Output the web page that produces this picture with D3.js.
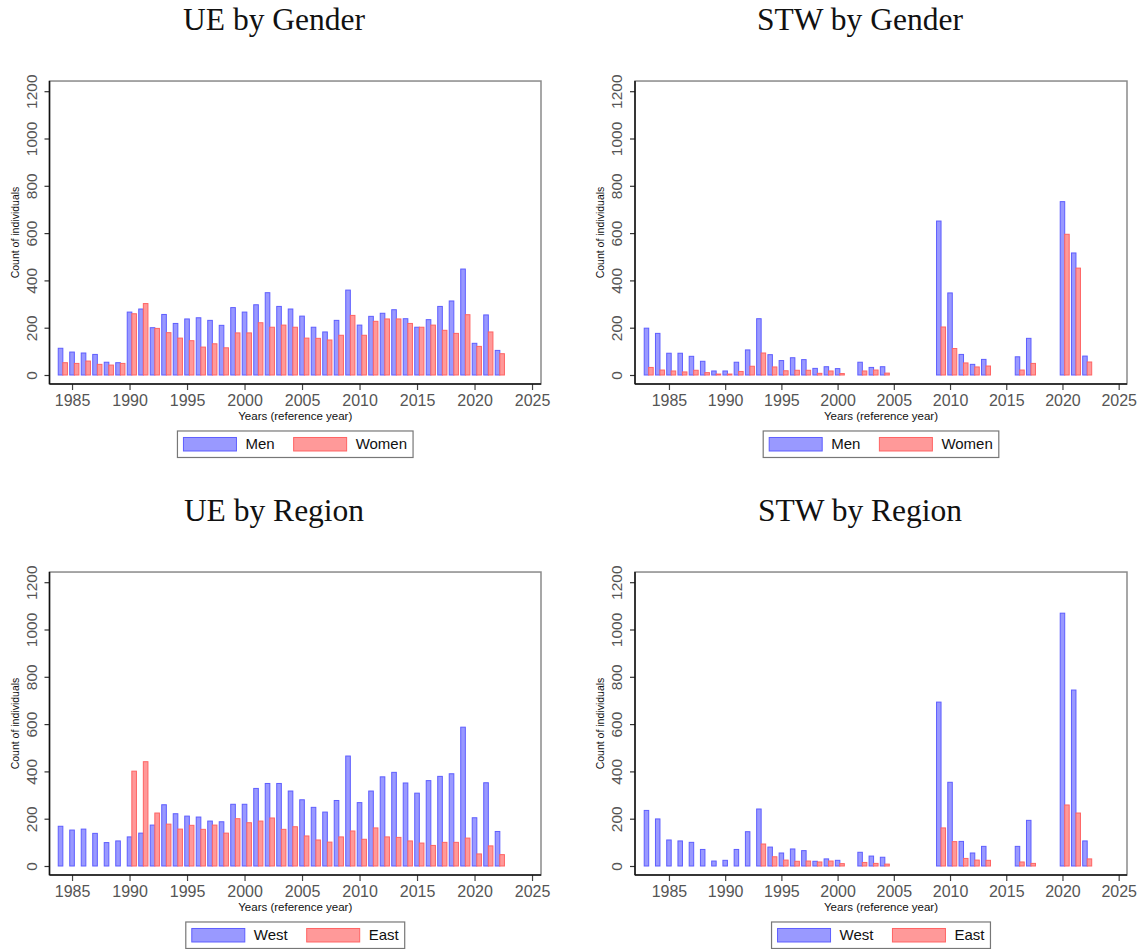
<!DOCTYPE html>
<html>
<head>
<meta charset="utf-8">
<script src="https://cdnjs.cloudflare.com/ajax/libs/d3/7.8.5/d3.min.js"></script>
<style>
  body { margin: 0; background: #fff; }
  text { font-family: "Liberation Sans", Arial, Helvetica, sans-serif; }
  .title { font-family: "Liberation Serif", "DejaVu Serif", serif; font-size: 31.5px; fill: #111; }
</style>
</head>
<body>
<svg id="chart" width="1145" height="949"></svg>
<script>
// years for unemployment (UE) and short-time work (STW) panels
let ue_years = [1984, 1985, 1986, 1987, 1988, 1989, 1990, 1991, 1992, 1993, 1994, 1995, 1996,
    1997, 1998, 1999, 2000, 2001, 2002, 2003, 2004, 2005, 2006, 2007, 2008, 2009, 2010, 2011,
    2012, 2013, 2014, 2015, 2016, 2017, 2018, 2019, 2020, 2021, 2022];
let ue_men = [113, 97, 93, 87, 54, 52, 266, 279, 200, 256, 218, 237, 242, 231, 210, 285,
    266, 297, 348, 290, 279, 249, 202, 182, 231, 359, 211, 248, 261, 276, 238, 202, 234, 290,
    313, 448, 134, 254, 104];
let ue_women = [52, 49, 59, 45, 42, 49, 259, 302, 197, 179, 156, 145, 118, 132, 115, 178,
    178, 221, 202, 211, 202, 156, 155, 148, 168, 252, 168, 227, 237, 237, 218, 202, 211, 189,
    176, 255, 121, 182, 90];
let ue_west = [168, 152, 156, 138, 99, 106, 123, 139, 173, 259, 221, 211, 207, 190, 187, 261,
    261, 328, 349, 349, 317, 280, 248, 228, 277, 465, 268, 317, 377, 396, 351, 308, 361, 379,
    390, 587, 204, 352, 146];
let ue_east = [null, null, null, null, null, null, 401, 441, 224, 177, 156, 172, 155, 173, 139,
    200, 183, 190, 203, 155, 166, 127, 110, 101, 123, 148, 113, 161, 123, 121, 106, 97, 87, 100,
    100, 118, 51, 85, 48];

let stw_years = [1983, 1984, 1985, 1986, 1987, 1988, 1989, 1990, 1991, 1992, 1993, 1994, 1995,
    1996, 1997, 1998, 1999, 2000, 2002, 2003, 2004, 2009, 2010, 2011, 2012, 2013, 2016, 2017,
    2020, 2021, 2022];
let stw_men = [198, 176, 92, 92, 79, 58, 17, 17, 54, 106, 238, 86, 61, 73, 65, 28, 35, 27,
    54, 32, 35, 651, 347, 87, 45, 66, 77, 155, 733, 516, 80];
let stw_women = [32, 21, 17, 13, 20, 10, 4, 4, 15, 37, 93, 34, 18, 20, 20, 7, 17, 6,
    17, 21, 8, 203, 112, 51, 34, 38, 21, 49, 595, 452, 55];
let stw_west = [235, 199, 110, 106, 100, 70, 21, 24, 70, 145, 241, 80, 55, 72, 65, 20, 30, 24,
    58, 42, 37, 693, 354, 104, 55, 83, 83, 193, 1069, 744, 106];
let stw_east = [null, null, null, null, null, null, null, null, null, null, 93, 39, 25, 20, 21,
    17, 21, 10, 15, 11, 8, 161, 103, 32, 25, 24, 17, 11, 258, 224, 30];

let x_ticks = [1985, 1990, 1995, 2000, 2005, 2010, 2015, 2020, 2025];
let y_ticks = [0, 200, 400, 600, 800, 1000, 1200];

let blue = { fill: "#9999ff", stroke: "#5e5eff" };
let red = { fill: "#ff9999", stroke: "#ff6464" };

let svg = d3.select("#chart");

function plot_panel(opt) {
    let g = svg.append("g");

    let x = d3.scaleLinear().domain(opt.xdomain).range([opt.left, opt.right]);
    let y = d3.scaleLinear().domain([0, 1200]).range([opt.zero, opt.zero - 283.8]);
    let top = y(1243), bottom = y(-38);

    // title
    svg.append("text")
        .attr("class", "title")
        .attr("x", opt.title_x)
        .attr("y", top - 51)
        .attr("text-anchor", "middle")
        .text(opt.title);

    // plot region border (grey top/right)
    g.append("rect")
        .attr("x", opt.left)
        .attr("y", top)
        .attr("width", opt.right - opt.left)
        .attr("height", bottom - top)
        .attr("fill", "none")
        .attr("stroke", "#8a8a8a")
        .attr("stroke-width", 1.5);

    // bars
    let series = [
        { vals: opt.a, off: -0.2, col: blue },
        { vals: opt.b, off: 0.2, col: red }
    ];
    series.forEach(s => {
        let rows = opt.years.map((yr, i) => ({ year: yr, v: s.vals[i] })).filter(d => d.v != null);
        g.selectAll(null)
            .data(rows)
            .enter().append("rect")
                .attr("x", d => x(d.year + s.off))
                .attr("y", d => y(d.v))
                .attr("width", d => x(d.year + s.off + 0.4) - x(d.year + s.off))
                .attr("height", d => y(0) - y(d.v))
                .attr("fill", s.col.fill)
                .attr("stroke", s.col.stroke)
                .attr("stroke-width", 1);
    });

    // y axis
    let ya = g.append("g")
        .attr("transform", `translate(${opt.left}, 0)`)
        .call(d3.axisLeft(y).tickValues(y_ticks).tickFormat(d3.format("d")).tickSize(5).tickSizeOuter(0));
    ya.select(".domain").remove();
    ya.append("line")
        .attr("x1", 0).attr("x2", 0)
        .attr("y1", top).attr("y2", bottom)
        .attr("stroke", "#111").attr("stroke-width", 1.5);
    ya.selectAll(".tick line").attr("stroke", "#333").attr("stroke-width", 1.2);
    ya.selectAll(".tick text")
        .attr("x", 0)
        .attr("y", -13)
        .attr("dy", 0)
        .attr("transform", "rotate(-90)")
        .attr("text-anchor", "middle")
        .attr("fill", "#555")
        .attr("font-size", "15.5px")
        .attr("font-family", "Liberation Sans, Arial, sans-serif");

    g.append("text")
        .attr("transform", `translate(${opt.left - 31}, ${(top + bottom) / 2}) rotate(-90)`)
        .attr("text-anchor", "middle")
        .attr("font-size", "10.5px")
        .attr("fill", "#111")
        .text("Count of individuals");

    // x axis
    let xa = g.append("g")
        .attr("transform", `translate(0, ${bottom})`)
        .call(d3.axisBottom(x).tickValues(x_ticks).tickFormat(d3.format("d")).tickSize(6).tickSizeOuter(0));
    xa.select(".domain").remove();
    xa.append("line")
        .attr("x1", opt.left).attr("x2", opt.right)
        .attr("y1", 0).attr("y2", 0)
        .attr("stroke", "#111").attr("stroke-width", 1.5);
    xa.selectAll(".tick line").attr("stroke", "#444").attr("stroke-width", 1.2);
    xa.selectAll(".tick text")
        .attr("y", 22)
        .attr("dy", 0)
        .attr("fill", "#555")
        .attr("font-size", "16px")
        .attr("font-family", "Liberation Sans, Arial, sans-serif");

    g.append("text")
        .attr("x", (opt.left + opt.right) / 2)
        .attr("y", bottom + 36.5)
        .attr("text-anchor", "middle")
        .attr("font-size", "11.5px")
        .attr("fill", "#111")
        .text("Years (reference year)");

    // legend
    let lg = g.append("g");
    let ly = bottom + 47;
    let cx = 6;
    let items = [{ name: opt.names[0], col: blue }, { name: opt.names[1], col: red }];
    items.forEach((it, i) => {
        lg.append("rect")
            .attr("x", cx).attr("y", ly + 6.5)
            .attr("width", 53).attr("height", 13.5)
            .attr("fill", it.col.fill).attr("stroke", it.col.stroke).attr("stroke-width", 1);
        let t = lg.append("text")
            .attr("x", cx + 62).attr("y", ly + 18.5)
            .attr("font-size", "15px")
            .attr("fill", "#111")
            .text(it.name);
        cx = cx + 62 + t.node().getComputedTextLength() + (i == 0 ? 19 : 6);
    });
    lg.insert("rect", ":first-child")
        .attr("x", 0).attr("y", ly)
        .attr("width", cx).attr("height", 26.5)
        .attr("fill", "#fff")
        .attr("stroke", "#777").attr("stroke-width", 1.2);
    lg.attr("transform", `translate(${(opt.left + opt.right) / 2 - cx / 2}, 0)`);
}

let left_col = { left: 49.5, right: 541, xdomain: [1983.04, 2025.78], title_x: 274 };
let right_col = { left: 635, right: 1127, xdomain: [1981.98, 2025.74], title_x: 860 };

plot_panel(Object.assign({}, left_col, {
    zero: 375, title: "UE by Gender", years: ue_years, a: ue_men, b: ue_women, names: ["Men", "Women"]
}));
plot_panel(Object.assign({}, right_col, {
    zero: 375, title: "STW by Gender", years: stw_years, a: stw_men, b: stw_women, names: ["Men", "Women"]
}));
plot_panel(Object.assign({}, left_col, {
    zero: 866, title: "UE by Region", years: ue_years, a: ue_west, b: ue_east, names: ["West", "East"]
}));
plot_panel(Object.assign({}, right_col, {
    zero: 866, title: "STW by Region", years: stw_years, a: stw_west, b: stw_east, names: ["West", "East"]
}));
</script>
</body>
</html>
